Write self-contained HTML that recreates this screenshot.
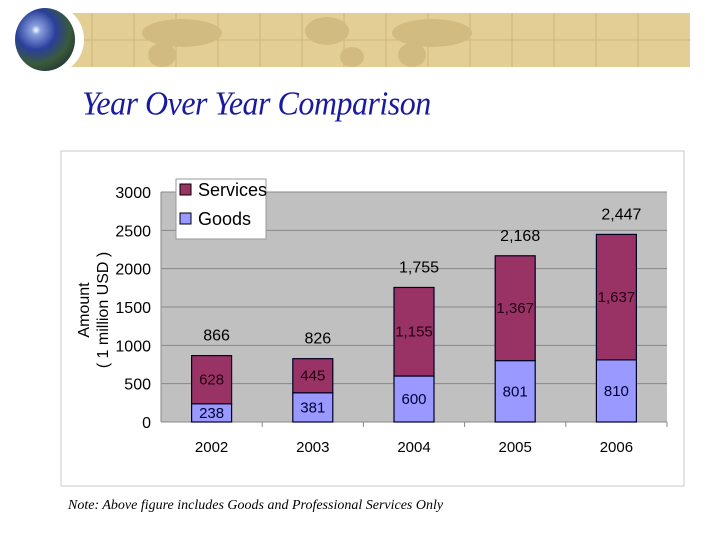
<!DOCTYPE html>
<html><head><meta charset="utf-8">
<style>
body{margin:0;width:720px;height:540px;background:#fff;overflow:hidden;position:relative;font-family:"Liberation Sans",sans-serif}
#banner{position:absolute;left:62px;top:13px;width:628px;height:54px;background:#e3cf95}
#globe{position:absolute;left:15px;top:8px;width:60px;height:63px;border-radius:50%;background:radial-gradient(circle at 35% 35%,#fff 0,#8aa0e0 8%,#2a3f9a 35%,#3a5a3a 60%,#101830 100%);box-shadow:6px 0 0 3px #fff}
#title{position:absolute;left:82px;top:84px;font-family:"Liberation Serif",serif;font-style:italic;font-size:32px;color:#1a1aa0;letter-spacing:-0.5px;transform:scaleY(1.05);transform-origin:left top}
#note{position:absolute;left:68px;top:498px;font-family:"Liberation Serif",serif;font-style:italic;font-size:14px;color:#000}
svg{position:absolute;left:0;top:0}
</style></head><body>
<div id="banner">
<svg width="628" height="54">
<g stroke="#cdb57a" stroke-width="1">
<line x1="0" y1="27" x2="628" y2="27"/>
<line x1="30" y1="0" x2="30" y2="54"/><line x1="72" y1="0" x2="72" y2="54"/><line x1="114" y1="0" x2="114" y2="54"/><line x1="156" y1="0" x2="156" y2="54"/><line x1="198" y1="0" x2="198" y2="54"/><line x1="240" y1="0" x2="240" y2="54"/><line x1="282" y1="0" x2="282" y2="54"/><line x1="324" y1="0" x2="324" y2="54"/><line x1="366" y1="0" x2="366" y2="54"/><line x1="408" y1="0" x2="408" y2="54"/><line x1="450" y1="0" x2="450" y2="54"/><line x1="492" y1="0" x2="492" y2="54"/><line x1="534" y1="0" x2="534" y2="54"/><line x1="576" y1="0" x2="576" y2="54"/></g>
<g fill="#d2bb80"><ellipse cx="120" cy="20" rx="40" ry="14"/><ellipse cx="100" cy="42" rx="14" ry="12"/><ellipse cx="265" cy="18" rx="22" ry="14"/><ellipse cx="290" cy="44" rx="12" ry="10"/><ellipse cx="370" cy="20" rx="40" ry="14"/><ellipse cx="350" cy="42" rx="14" ry="12"/></g>
</svg></div>
<div id="globe"></div>
<div id="title">Year Over Year Comparison</div>
<svg id="chart" width="720" height="540"></svg>
<div id="note">Note: Above figure includes Goods and Professional Services Only</div>
<script>
const categories=["2002","2003","2004","2005","2006"];
const goods=[238,381,600,801,810];
const services=[628,445,1155,1367,1637];
const totalLabels=["866","826","1,755","2,168","2,447"];
const goodsLabels=["238","381","600","801","810"];
const servicesLabels=["628","445","1,155","1,367","1,637"];
const yTicks=[0,500,1000,1500,2000,2500,3000];
const NS="http://www.w3.org/2000/svg";
const svg=document.getElementById('chart');
const L=161,R=667,T=192,B=422,yMax=3000;
const bw=(R-L)/categories.length;
const y=v=>B-(v/yMax)*(B-T);
const xc=i=>L+bw*(i+0.5);
function mk(tag,attrs,parent){const e=document.createElementNS(NS,tag);for(const k in attrs)e.setAttribute(k,attrs[k]);(parent||svg).appendChild(e);return e;}
function txt(s,attrs){const e=mk('text',attrs);e.textContent=s;return e;}
let f=mk('rect',{x:61,y:151,width:623,height:335,fill:'#fff',stroke:'#c8c8c8'});


let pa=mk('rect',{x:L,y:T,width:R-L,height:B-T,fill:'#c0c0c0'});


yTicks.forEach(t=>{
  if(t>0){let g=mk('line',{x1:L,x2:R,y1:y(t),y2:y(t),stroke:'#888','stroke-width':1});
  
  }
  let lb=txt(String(t),{x:L-10,y:y(t)+6,'text-anchor':'end','font-size':16,fill:'#000'});
  
  
});
mk('line',{x1:L,x2:L,y1:T,y2:B,stroke:'#888'});
mk('line',{x1:L,x2:R,y1:B,y2:B,stroke:'#888'});
categories.forEach((c,i)=>{
  mk('line',{x1:L+bw*(i+1),x2:L+bw*(i+1),y1:B,y2:B+5,stroke:'#888'});
  const x0=xc(i)-20;
  let gb=mk('rect',{x:x0,y:y(goods[i]),width:40,height:B-y(goods[i]),fill:'#9999ff',stroke:'#000022','stroke-width':1.2});
  
  
  const top=y(goods[i]+services[i]);
  let sb=mk('rect',{x:x0,y:top,width:40,height:y(goods[i])-top,fill:'#993366',stroke:'#000022','stroke-width':1.2});
  
  
  let gl=txt(goodsLabels[i],{x:xc(i),y:(y(goods[i])+B)/2+5,'text-anchor':'middle','font-size':15,fill:'#000033'});
  
  
  let sl=txt(servicesLabels[i],{x:xc(i),y:(y(goods[i])+top)/2+5,'text-anchor':'middle','font-size':15,fill:'#220011'});
  
  
  let tl=txt(totalLabels[i],{x:xc(i)+5,y:top-15,'text-anchor':'middle','font-size':16,fill:'#000'});
  
  
  let xl=txt(c,{x:xc(i),y:B+30,'text-anchor':'middle','font-size':15,fill:'#000'});
  
  
});
let yt=mk('text',{transform:'translate(89,310) rotate(-90)','text-anchor':'middle','font-size':16,fill:'#000'});


let t1=mk('tspan',{x:0,y:0},yt);t1.textContent='Amount';
let t2=mk('tspan',{x:0,y:19},yt);t2.textContent='( 1 million USD )';
let lg=mk('rect',{x:176,y:179,width:90,height:60,fill:'#fff',stroke:'#999'});


[['Services','#993366',194],['Goods','#9999ff',223]].forEach(([n,col,yy])=>{
  let s=mk('rect',{x:180,y:yy-10,width:11,height:11,fill:col,stroke:'#000'});
  
  
  let t=txt(n,{x:198,y:yy+2,'font-size':18,fill:'#000'});
  
  
});
</script>
</body></html>
